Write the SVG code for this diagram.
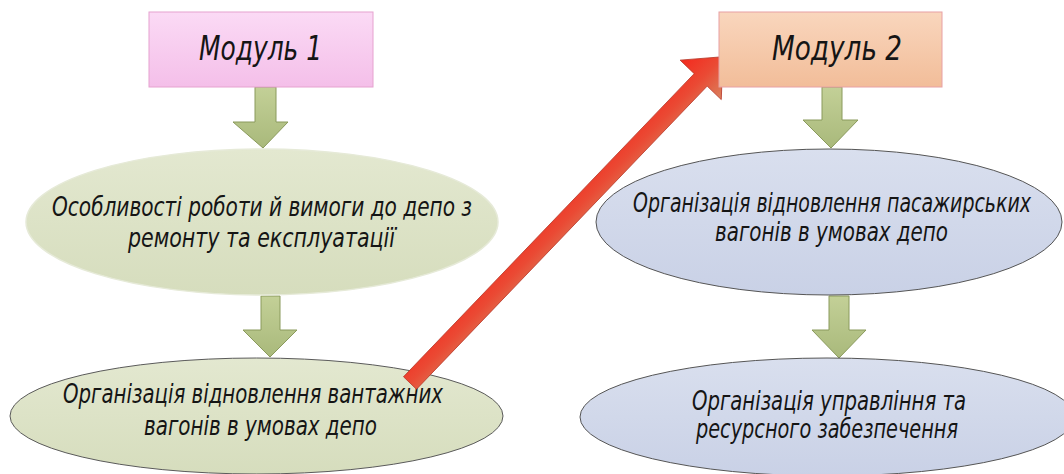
<svg xmlns="http://www.w3.org/2000/svg" width="1064" height="474" viewBox="0 0 1064 474">
<defs>
<linearGradient id="gPink" x1="0" y1="0" x2="0" y2="1"><stop offset="0" stop-color="#fbdaf5"/><stop offset="1" stop-color="#f4bfe9"/></linearGradient>
<linearGradient id="gPeach" x1="0" y1="0" x2="0" y2="1"><stop offset="0" stop-color="#f9d6bd"/><stop offset="1" stop-color="#f2bd99"/></linearGradient>
<linearGradient id="gGreen" x1="0" y1="0" x2="0" y2="1"><stop offset="0" stop-color="#e3e8d0"/><stop offset="1" stop-color="#d6ddbd"/></linearGradient>
<linearGradient id="gBlue" x1="0" y1="0" x2="0" y2="1"><stop offset="0" stop-color="#d9dfee"/><stop offset="1" stop-color="#c9d1e6"/></linearGradient>
<linearGradient id="gArrow" x1="0" y1="0" x2="0" y2="1"><stop offset="0" stop-color="#c3d097"/><stop offset="1" stop-color="#a9b97b"/></linearGradient>
<linearGradient id="gRed" gradientUnits="userSpaceOnUse" x1="0" y1="-28" x2="0" y2="28"><stop offset="0" stop-color="#f42a1e"/><stop offset="0.5" stop-color="#ea4a34"/><stop offset="1" stop-color="#d9825e"/></linearGradient>
</defs>
<style>
.t{font-family:"Liberation Sans Narrow","DejaVu Sans Condensed","DejaVu Sans",sans-serif;font-style:italic;fill:#151515;font-size:27px}
.m{font-size:34px}
.ga{fill:url(#gArrow);stroke:#8a9a5c;stroke-width:1}
.eg{fill:url(#gGreen)}
.eb{fill:url(#gBlue);stroke:#555;stroke-width:1}
</style>
<rect width="1064" height="474" fill="#ffffff"/>
<g id="connectors">
<polygon class="ga" points="255,87 276,87 276,122 288,122 263,148 233,122 255,122"/>
<polygon class="ga" points="261,296 280,296 280,330 297,330 270,357 243,330 261,330"/>
<polygon class="ga" points="822,87 842,87 842,120 858,120 831,148 803,120 822,120"/>
<polygon class="ga" points="829,296 849,296 849,330 866,330 839,358 812,330 829,330"/>
</g>
<g id="node-e1">
<ellipse class="eg" cx="262" cy="222" rx="236" ry="73" stroke="#e6ead8" stroke-width="1.5"/>
<text class="t" x="52" y="216" textLength="420" lengthAdjust="spacingAndGlyphs">Особливості роботи й вимоги до депо з</text>
<text class="t" x="128" y="247" textLength="267" lengthAdjust="spacingAndGlyphs">ремонту та експлуатації</text>
</g>
<g id="node-e2">
<ellipse class="eg" cx="256.5" cy="416" rx="246.5" ry="58" stroke="#5a5a5a" stroke-width="1"/>
<text class="t" x="63" y="403" textLength="380" lengthAdjust="spacingAndGlyphs">Організація відновлення вантажних</text>
<text class="t" x="144" y="435" textLength="233" lengthAdjust="spacingAndGlyphs">вагонів в умовах депо</text>
</g>
<g id="node-e3">
<ellipse class="eb" cx="829" cy="222" rx="233" ry="73"/>
<text class="t" x="633" y="212" textLength="398" lengthAdjust="spacingAndGlyphs">Організація відновлення пасажирських</text>
<text class="t" x="715" y="241" textLength="233" lengthAdjust="spacingAndGlyphs">вагонів в умовах депо</text>
</g>
<g id="node-e4">
<ellipse class="eb" cx="827" cy="417" rx="247" ry="59"/>
<text class="t" x="692" y="410" textLength="274" lengthAdjust="spacingAndGlyphs">Організація управління та</text>
<text class="t" x="696" y="438" textLength="262" lengthAdjust="spacingAndGlyphs">ресурсного забезпечення</text>
</g>
<g id="connector-red">
<polygon transform="translate(410,383) rotate(-46.2)" points="0,-9 420,-9 420,-28.5 452,0 420,28.5 420,9 0,9" fill="url(#gRed)" stroke="#b83a2a" stroke-width="0.8"/>
</g>
<g id="node-m1">
<rect x="149" y="12" width="224" height="75" fill="url(#gPink)" stroke="#e6a2cf" stroke-width="1"/>
<text class="t m" x="199" y="60" textLength="123" lengthAdjust="spacingAndGlyphs">Модуль 1</text>
</g>
<g id="node-m2">
<rect x="719" y="12" width="223" height="75" fill="url(#gPeach)" stroke="#e8a0a4" stroke-width="1"/>
<text class="t m" x="772" y="60" textLength="130" lengthAdjust="spacingAndGlyphs">Модуль 2</text>
</g>
</svg>
